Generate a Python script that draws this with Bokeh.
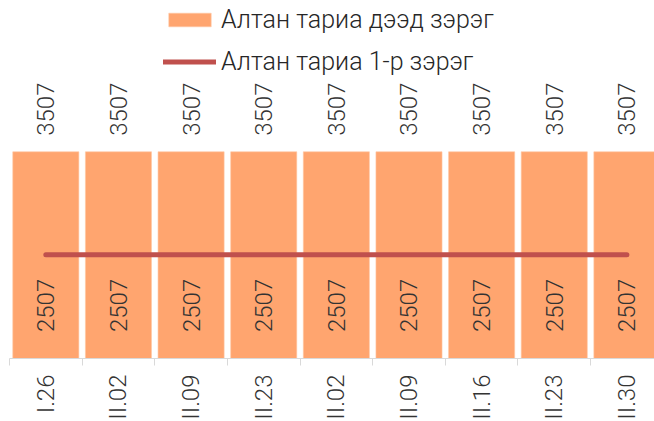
import math
from bokeh.plotting import figure
from bokeh.models import ColumnDataSource, Range1d, FixedTicker, LabelSet, Legend, LegendItem
from bokeh.embed import file_html
from bokeh.resources import INLINE
from bokeh.core.properties import value

categories = ["I.26", "II.02", "II.09", "II.23", "II.02", "II.09", "II.16", "II.23", "II.30"]
top_grade = [3507, 3507, 3507, 3507, 3507, 3507, 3507, 3507, 3507]
first_grade = [2507, 2507, 2507, 2507, 2507, 2507, 2507, 2507, 2507]

FONT = "Roboto Light"
FS = "24px"
xs = list(range(len(categories)))
src = ColumnDataSource(dict(
    x=xs, top=top_grade, first=first_grade,
    top_txt=[str(v) for v in top_grade],
    first_txt=[str(v) for v in first_grade],
))

p = figure(frame_width=645, frame_height=358, output_backend="svg", toolbar_location=None,
           x_range=Range1d(-0.5, 8.38), y_range=Range1d(1500, 4976),
           y_axis_location=None, min_border_left=9, min_border_right=0, min_border_top=0,
           min_border_bottom=0)
p.outline_line_color = None
p.grid.visible = False

bars = p.vbar(x="x", top="top", bottom=0, width=0.91, source=src,
              fill_color="#FFA56F", line_color="#FFC8A5", line_width=0.6)
line = p.line(x="x", y="first", source=src, line_width=5, line_color="#C0504D", line_cap="round")

top_labels = LabelSet(x="x", y="top", text="top_txt", source=src, angle=math.pi / 2,
                      text_align="left", text_baseline="middle", y_offset=16,
                      text_font=value(FONT), text_font_size=FS, text_color="#333333")
first_labels = LabelSet(x="x", y="first", text="first_txt", source=src, angle=math.pi / 2,
                        text_align="right", text_baseline="middle", y_offset=-24,
                        text_font=value(FONT), text_font_size=FS, text_color="#333333")
p.add_layout(top_labels)
p.add_layout(first_labels)

ax = p.xaxis[0]
ax.ticker = FixedTicker(ticks=xs, minor_ticks=[i - 0.5 for i in range(len(categories) + 1)])
ax.major_label_overrides = {i: c for i, c in enumerate(categories)}
ax.major_label_orientation = math.pi / 2
ax.major_tick_line_color = None
ax.major_tick_out = 0
ax.major_tick_in = 0
ax.minor_tick_line_color = "#D9D9D9"
ax.minor_tick_out = 7
ax.minor_tick_in = 0
ax.axis_line_color = "#D9D9D9"
ax.major_label_standoff = 9
ax.major_label_text_font = FONT
ax.major_label_text_font_size = FS
ax.major_label_text_color = "#333333"

legend = Legend(items=[
    LegendItem(label="Алтан тариа дээд зэрэг", renderers=[bars]),
    LegendItem(label="Алтан тариа 1-р зэрэг", renderers=[line]),
], location=(154, 282), orientation="vertical", padding=0, margin=0, spacing=13,
    glyph_width=53, glyph_height=17, label_height=27, label_standoff=5,
    label_text_font=FONT, label_text_font_size="25px", label_text_color="#262626",
    border_line_color=None, background_fill_alpha=0)
p.add_layout(legend)

open("out.html", "w").write(file_html(p, INLINE))
